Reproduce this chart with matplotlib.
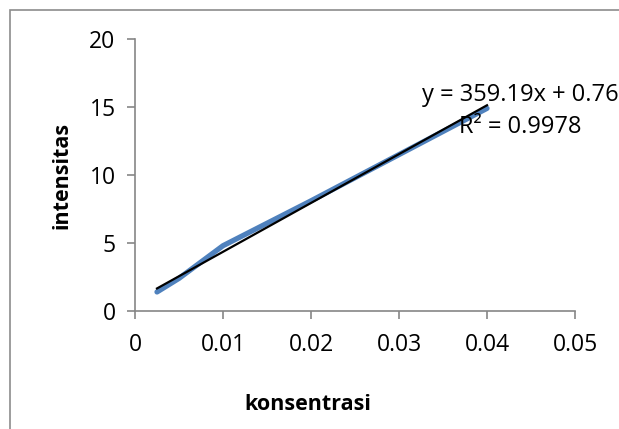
import matplotlib
matplotlib.use("Agg")
import matplotlib.pyplot as plt
import numpy as np
from matplotlib.patches import Rectangle

# data
konsentrasi = [0.0025, 0.005, 0.01, 0.02, 0.03, 0.04]
intensitas = [1.4, 2.4, 4.8, 8.1, 11.5, 14.9]
slope = 359.19
intercept = 0.76
eq_text = "y = 359.19x + 0.76"
r2_text = "R² = 0.9978"
xticks = [0, 0.01, 0.02, 0.03, 0.04, 0.05]
xtick_labels = ["0", "0.01", "0.02", "0.03", "0.04", "0.05"]
yticks = [0, 5, 10, 15, 20]

plt.rcParams['font.family'] = ['Open Sans', 'DejaVu Sans']

fig = plt.figure(figsize=(6.19, 4.29), dpi=100)
ax = fig.add_axes([135/619, 1-311/429, 440/619, 272/429])

# outer frame (runs off the right and bottom edge)
fig.patches.append(Rectangle((10/619, -0.1), 1.2, 1-10/429+0.1, transform=fig.transFigure,
                             fill=False, edgecolor="#8c8c8c", linewidth=1.2, zorder=1))

xs = np.array([konsentrasi[0], konsentrasi[-1]])
ax.plot(konsentrasi, intensitas, color="#4f81bd", linewidth=3.8, solid_capstyle="round",
        solid_joinstyle="round", zorder=3)
ax.plot(xs, slope*xs + intercept, color="black", linewidth=1.6, zorder=4)

ax.set_xlim(0, 0.05)
ax.set_ylim(0, 20)
ax.set_xticks(xticks)
ax.set_xticklabels(xtick_labels)
ax.set_yticks(yticks)
for s in ["top", "right"]:
    ax.spines[s].set_visible(False)
for s in ["left", "bottom"]:
    ax.spines[s].set_color("#868686")
    ax.spines[s].set_linewidth(1.2)
ax.tick_params(axis="both", colors="#868686", length=6, width=1.2, labelsize=16.5, labelcolor="black")
ax.tick_params(axis="x", pad=10)
ax.tick_params(axis="y", pad=8)

ax.text(0.0438, 15.85, eq_text, fontsize=17, ha="center", va="center")
ax.text(0.0438, 13.5, r2_text, fontsize=17, ha="center", va="center")

fig.text(308/619, 1-405/429, "konsentrasi", fontsize=15.5, fontweight="bold", ha="center", va="center")
fig.text(62/619, 1-175/429, "intensitas", fontsize=15.5, fontweight="bold", ha="center", va="center",
         rotation=90)

fig.savefig("out.png", dpi=100)
